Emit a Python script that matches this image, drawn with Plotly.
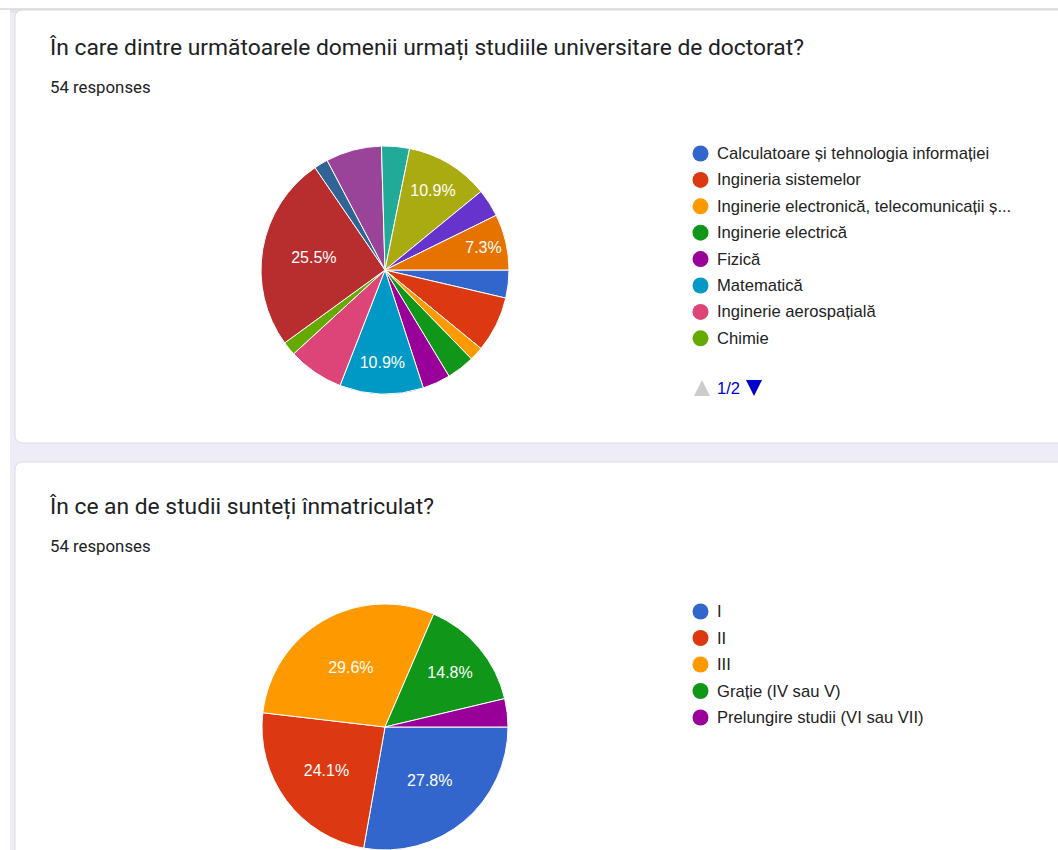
import plotly.graph_objects as go

W, H = 1058, 850

# ---------------- data ----------------
title1 = "În care dintre următoarele domenii urmați studiile universitare de doctorat?"
title2 = "În ce an de studii sunteți înmatriculat?"
responses_text = "54 responses"

labels1 = [
    "Calculatoare și tehnologia informației",
    "Ingineria sistemelor",
    "Inginerie electronică, telecomunicații ș...",
    "Inginerie electrică",
    "Fizică",
    "Matematică",
    "Inginerie aerospațială",
    "Chimie",
    "Domeniul 9", "Domeniul 10", "Domeniul 11", "Domeniul 12",
    "Domeniul 13", "Domeniul 14", "Domeniul 15",
]
counts1 = [2, 4, 1, 2, 2, 6, 4, 1, 14, 1, 4, 2, 6, 2, 4]
show_pct1 = [False, False, False, False, False, True, False, False,
             True, False, False, False, True, False, True]
legend_page1 = 8          # entries visible on legend page 1
pager_text = "1/2"

labels2 = ["I", "II", "III", "Grație (IV sau V)", "Prelungire studii (VI sau VII)"]
counts2 = [15, 13, 16, 8, 2]
show_pct2 = [True, True, True, True, False]

palette = ["#3366cc", "#dc3912", "#ff9900", "#109618", "#990099", "#0099c6",
           "#dd4477", "#66aa00", "#b82e2e", "#316395", "#994499", "#22aa99",
           "#aaaa11", "#6633cc", "#e67300"]

# ---------------- helpers (pixel -> paper) ----------------
def fx(x):
    return x / W

def fy(y):
    return 1 - y / H

def rrect(x0, y0, x1, y1, r):
    return (f"M {fx(x0+r)},{fy(y0)} L {fx(x1-r)},{fy(y0)} "
            f"Q {fx(x1)},{fy(y0)} {fx(x1)},{fy(y0+r)} L {fx(x1)},{fy(y1-r)} "
            f"Q {fx(x1)},{fy(y1)} {fx(x1-r)},{fy(y1)} L {fx(x0+r)},{fy(y1)} "
            f"Q {fx(x0)},{fy(y1)} {fx(x0)},{fy(y1-r)} L {fx(x0)},{fy(y0+r)} "
            f"Q {fx(x0)},{fy(y0)} {fx(x0+r)},{fy(y0)} Z")

def pct_texts(vals, show):
    tot = sum(vals)
    return [f"{v / tot * 100:.1f}%" if s else "" for v, s in zip(vals, show)]

TXT = "#202124"
LEG_FONT = "Liberation Sans, Arial, sans-serif"
TITLE_FONT = "Roboto, Open Sans, sans-serif"

fig = go.Figure()

pie_common = dict(
    sort=False, direction="clockwise", rotation=90,
    textinfo="text", textposition="inside", insidetextorientation="horizontal",
    textfont=dict(family=LEG_FONT, size=16, color="white"),
    showlegend=False, hoverinfo="label+value+percent",
)

fig.add_trace(go.Pie(
    labels=labels1, values=counts1, text=pct_texts(counts1, show_pct1),
    marker=dict(colors=palette[:len(labels1)], line=dict(color="white", width=1)),
    domain=dict(x=[fx(261), fx(509)], y=[fy(394), fy(146)]),
    **pie_common,
))

fig.add_trace(go.Pie(
    labels=labels2, values=counts2, text=pct_texts(counts2, show_pct2),
    marker=dict(colors=palette[:len(labels2)], line=dict(color="white", width=1)),
    domain=dict(x=[fx(200), fx(570)], y=[0, fy(604)]),
    **pie_common,
))

shapes = []
# page background (lavender)
shapes.append(dict(type="rect", xref="paper", yref="paper", layer="below",
                   x0=fx(10), x1=fx(W + 20), y0=fy(9), y1=fy(H + 20),
                   fillcolor="#eeecf6", line=dict(width=0)))
# top toolbar line
shapes.append(dict(type="line", xref="paper", yref="paper", layer="below",
                   x0=fx(0), x1=fx(W), y0=fy(9), y1=fy(9),
                   line=dict(color="#c4c4c4", width=1)))
shapes.append(dict(type="rect", xref="paper", yref="paper", layer="below",
                   x0=fx(10), x1=fx(W), y0=fy(10), y1=fy(13),
                   fillcolor="rgba(0,0,0,0.04)", line=dict(width=0)))
# cards
for (y0, y1) in [(10, 443), (462, 900)]:
    shapes.append(dict(type="path", xref="paper", yref="paper", layer="below",
                       path=rrect(15, y0, W + 30, y1, 8),
                       fillcolor="white", line=dict(color="#dadce0", width=1)))

annotations = []
def add_text(x, y, text, size, color=TXT, family=TITLE_FONT):
    annotations.append(dict(xref="paper", yref="paper", x=fx(x), y=fy(y),
                            xanchor="left", yanchor="middle", showarrow=False,
                            text=text, font=dict(family=family, size=size, color=color)))

add_text(47, 47, title1, 22.8)
add_text(48, 87, responses_text, 16.8)
add_text(47, 506, title2, 22.8)
add_text(48, 546, responses_text, 16.8)

# legends
def legend(labels, colors, y_start, step):
    for i, (lab, col) in enumerate(zip(labels, colors)):
        yc = y_start + i * step
        shapes.append(dict(type="circle", xref="paper", yref="paper",
                           x0=fx(692.5), x1=fx(708.5), y0=fy(yc - 8), y1=fy(yc + 8),
                           fillcolor=col, line=dict(width=0)))
        add_text(715, yc, lab, 16.6, color="#222222", family=LEG_FONT)

legend(labels1[:legend_page1], palette[:legend_page1], 153.5, 26.4)
legend(labels2, palette[:len(labels2)], 611.5, 26.5)

# pager
py = 388
shapes.append(dict(type="path", xref="paper", yref="paper",
                   path=f"M {fx(694)},{fy(py+8)} L {fx(710)},{fy(py+8)} L {fx(702)},{fy(py-8)} Z",
                   fillcolor="#cccccc", line=dict(width=0)))
shapes.append(dict(type="path", xref="paper", yref="paper",
                   path=f"M {fx(746)},{fy(py-8)} L {fx(762)},{fy(py-8)} L {fx(754)},{fy(py+8)} Z",
                   fillcolor="#0000cc", line=dict(width=0)))
add_text(715, py, pager_text, 16.6, color="#0000cc", family=LEG_FONT)

fig.update_layout(
    width=W, height=H,
    margin=dict(l=0, r=0, t=0, b=0),
    paper_bgcolor="white",
    shapes=shapes, annotations=annotations,
    uniformtext=dict(minsize=16, mode="show"),
)

fig.write_html("out.html", config={"displayModeBar": False},
               post_script="document.body.style.margin='0';document.body.style.overflow='hidden';")
